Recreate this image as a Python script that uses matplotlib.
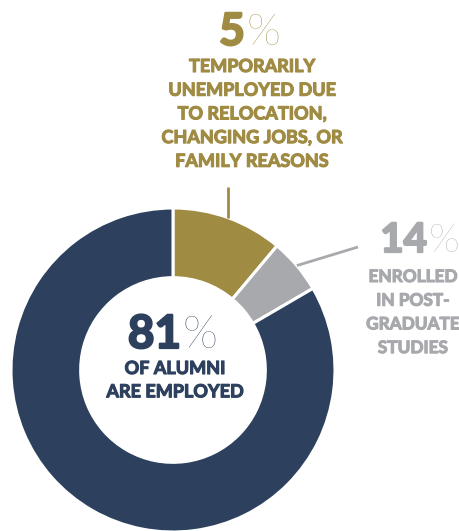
import numpy as np
import matplotlib.pyplot as plt
import matplotlib.patheffects as pe

# slice sizes as drawn in the picture (gold, gray, navy), clockwise from 12 o'clock
slice_names = ["unemployed", "postgrad", "employed"]
slice_values = [11.1, 5.5, 83.4]
slice_colors = ["#a08b43", "#a8a9ad", "#2d405e"]

# printed labels
label_pct = ["5", "14", "81"]
gold_lines = ["TEMPORARILY", "UNEMPLOYED DUE", "TO RELOCATION,", "CHANGING JOBS, OR", "FAMILY REASONS"]
gray_lines = ["ENROLLED", "IN POST-", "GRADUATE", "STUDIES"]
center_lines = ["OF ALUMNI", "ARE EMPLOYED"]

W, H = 460, 531
fig = plt.figure(figsize=(W / 100, H / 100), dpi=100)
ax = fig.add_axes([0, 0, 1, 1])

cx, cy, R = 173, 370, 162
wedges, _ = ax.pie(slice_values, colors=slice_colors, startangle=-90, counterclock=True,
                   center=(cx, cy), radius=R, frame=True,
                   wedgeprops=dict(width=R * 0.43, edgecolor="white", linewidth=2.2))
ax.set_xlim(0, W)
ax.set_ylim(H, 0)
ax.set_aspect("equal")
ax.axis("off")

def edge_point(w):
    a = np.deg2rad((w.theta1 + w.theta2) / 2)
    return cx + R * np.cos(a), cy + R * np.sin(a)

# leader lines
gx, gy = edge_point(wedges[0])
ax.plot([gx, gx], [gy, 187], color=slice_colors[0], lw=2, solid_capstyle="butt")
sx, sy = edge_point(wedges[1])
ax.plot([sx, 358], [sy, 247], color=slice_colors[1], lw=2, solid_capstyle="butt")

FONT = "Lato"

def big_pct(x_split, y, num, color, size):
    ax.text(x_split, y, num, ha="right", va="baseline", fontsize=size,
            fontweight="bold", color=color, family=FONT,
            path_effects=[pe.withStroke(linewidth=1.6, foreground=color)])
    ax.text(x_split + 2, y, "%", ha="left", va="baseline", fontsize=size,
            fontweight="light", color=color, family=FONT)

def block(x, y0, lines, color, step, size=13.0):
    for i, s in enumerate(lines):
        ax.text(x, y0 + i * step, s, ha="center", va="baseline", fontsize=size,
                fontweight="bold", color=color, family=FONT,
                path_effects=[pe.withStroke(linewidth=0.8, foreground=color)])

big_pct(245, 45, label_pct[0], slice_colors[0], 32)
block(252, 72, gold_lines, slice_colors[0], 23.7)

big_pct(427, 252, label_pct[1], slice_colors[1], 29)
block(413, 282, gray_lines, slice_colors[1], 23.7, size=12.4)

big_pct(181, 348, label_pct[2], slice_colors[2], 33)
block(175, 374, center_lines, slice_colors[2], 23.3)

fig.savefig("out.png", dpi=100)
